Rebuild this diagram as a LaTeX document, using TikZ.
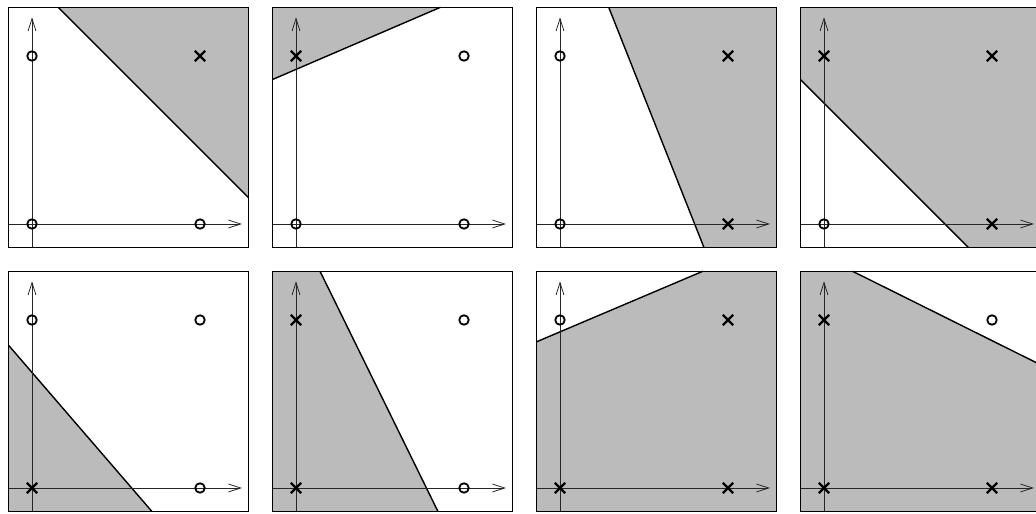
\documentclass[tikz,border=0pt]{standalone}
\usepackage{xcolor}
\usepackage{tikz}
\usetikzlibrary{shapes, arrows.meta}
\definecolor{grisZona}{HTML}{BBBBBB}

\begin{document}
\begin{tikzpicture}[
    x=3.36cm, y=3.36cm,
    marco/.style={draw=black, line width=0.6pt},
    zona/.style={fill=grisZona},
    frontera/.style={draw=black, line width=0.8pt},
    eje/.style={-{Straight Barb[length=7pt, width=4.5pt]}, line width=0.45pt, black!85},
    circulo/.style={circle, draw, line width=1pt, inner sep=0pt, minimum size=0.19cm},
    cruz/.style={cross out, draw, line width=1.3pt, inner sep=0pt, minimum size=0.16cm}
]
    \clip (-0.1905,1.3333) rectangle (5.9762,-1.7262);

    % fila superior
    \begin{scope}
        \fill[zona] (0.155,1.29) -- (1.29,1.29) -- (1.29,0.155) -- cycle;
        \draw[frontera] (0.155,1.29) -- (1.29,0.155);
        \draw[eje] (-0.14,0) -- (1.25,0);
        \draw[eje] (0,-0.14) -- (0,1.23);
        \node[circulo] (p1a) at (0,0) {};
        \node[circulo] (p1b) at (1,0) {};
        \node[circulo] (p1c) at (0,1) {};
        \node[cruz] (p1d) at (1,1) {};
        \draw[marco] (-0.14,-0.14) rectangle (1.29,1.29);
    \end{scope}
    \begin{scope}[shift={(1.5714,0)}]
        \fill[zona] (-0.14,0.86) -- (0.86,1.29) -- (-0.14,1.29) -- cycle;
        \draw[frontera] (-0.14,0.86) -- (0.86,1.29);
        \draw[eje] (-0.14,0) -- (1.25,0);
        \draw[eje] (0,-0.14) -- (0,1.23);
        \node[circulo] (p2a) at (0,0) {};
        \node[circulo] (p2b) at (1,0) {};
        \node[cruz] (p2c) at (0,1) {};
        \node[circulo] (p2d) at (1,1) {};
        \draw[marco] (-0.14,-0.14) rectangle (1.29,1.29);
    \end{scope}
    \begin{scope}[shift={(3.1428,0)}]
        \fill[zona] (0.29,1.29) -- (1.29,1.29) -- (1.29,-0.14) -- (0.857,-0.14) -- cycle;
        \draw[frontera] (0.29,1.29) -- (0.857,-0.14);
        \draw[eje] (-0.14,0) -- (1.25,0);
        \draw[eje] (0,-0.14) -- (0,1.23);
        \node[circulo] (p3a) at (0,0) {};
        \node[cruz] (p3b) at (1,0) {};
        \node[circulo] (p3c) at (0,1) {};
        \node[cruz] (p3d) at (1,1) {};
        \draw[marco] (-0.14,-0.14) rectangle (1.29,1.29);
    \end{scope}
    \begin{scope}[shift={(4.7142,0)}]
        \fill[zona] (-0.14,0.86) -- (-0.14,1.29) -- (1.29,1.29) -- (1.29,-0.14) -- (0.86,-0.14) -- cycle;
        \draw[frontera] (-0.14,0.86) -- (0.86,-0.14);
        \draw[eje] (-0.14,0) -- (1.25,0);
        \draw[eje] (0,-0.14) -- (0,1.23);
        \node[circulo] (p4a) at (0,0) {};
        \node[cruz] (p4b) at (1,0) {};
        \node[cruz] (p4c) at (0,1) {};
        \node[cruz] (p4d) at (1,1) {};
        \draw[marco] (-0.14,-0.14) rectangle (1.29,1.29);
    \end{scope}

    % fila inferior
    \begin{scope}[shift={(0,-1.5714)}]
        \fill[zona] (-0.14,0.85) -- (0.714,-0.14) -- (-0.14,-0.14) -- cycle;
        \draw[frontera] (-0.14,0.85) -- (0.714,-0.14);
        \draw[eje] (-0.14,0) -- (1.25,0);
        \draw[eje] (0,-0.14) -- (0,1.23);
        \node[cruz] (p5a) at (0,0) {};
        \node[circulo] (p5b) at (1,0) {};
        \node[circulo] (p5c) at (0,1) {};
        \node[circulo] (p5d) at (1,1) {};
        \draw[marco] (-0.14,-0.14) rectangle (1.29,1.29);
    \end{scope}
    \begin{scope}[shift={(1.5714,-1.5714)}]
        \fill[zona] (-0.14,1.29) -- (0.143,1.29) -- (0.845,-0.14) -- (-0.14,-0.14) -- cycle;
        \draw[frontera] (0.143,1.29) -- (0.845,-0.14);
        \draw[eje] (-0.14,0) -- (1.25,0);
        \draw[eje] (0,-0.14) -- (0,1.23);
        \node[cruz] (p6a) at (0,0) {};
        \node[circulo] (p6b) at (1,0) {};
        \node[cruz] (p6c) at (0,1) {};
        \node[circulo] (p6d) at (1,1) {};
        \draw[marco] (-0.14,-0.14) rectangle (1.29,1.29);
    \end{scope}
    \begin{scope}[shift={(3.1428,-1.5714)}]
        \fill[zona] (-0.14,0.87) -- (0.85,1.29) -- (1.29,1.29) -- (1.29,-0.14) -- (-0.14,-0.14) -- cycle;
        \draw[frontera] (-0.14,0.87) -- (0.85,1.29);
        \draw[eje] (-0.14,0) -- (1.25,0);
        \draw[eje] (0,-0.14) -- (0,1.23);
        \node[cruz] (p7a) at (0,0) {};
        \node[cruz] (p7b) at (1,0) {};
        \node[circulo] (p7c) at (0,1) {};
        \node[cruz] (p7d) at (1,1) {};
        \draw[marco] (-0.14,-0.14) rectangle (1.29,1.29);
    \end{scope}
    \begin{scope}[shift={(4.7142,-1.5714)}]
        \fill[zona] (-0.14,1.29) -- (0.17,1.29) -- (1.29,0.733) -- (1.29,-0.14) -- (-0.14,-0.14) -- cycle;
        \draw[frontera] (0.17,1.29) -- (1.29,0.733);
        \draw[eje] (-0.14,0) -- (1.25,0);
        \draw[eje] (0,-0.14) -- (0,1.23);
        \node[cruz] (p8a) at (0,0) {};
        \node[cruz] (p8b) at (1,0) {};
        \node[cruz] (p8c) at (0,1) {};
        \node[circulo] (p8d) at (1,1) {};
        \draw[marco] (-0.14,-0.14) rectangle (1.29,1.29);
    \end{scope}
\end{tikzpicture}
\end{document}
